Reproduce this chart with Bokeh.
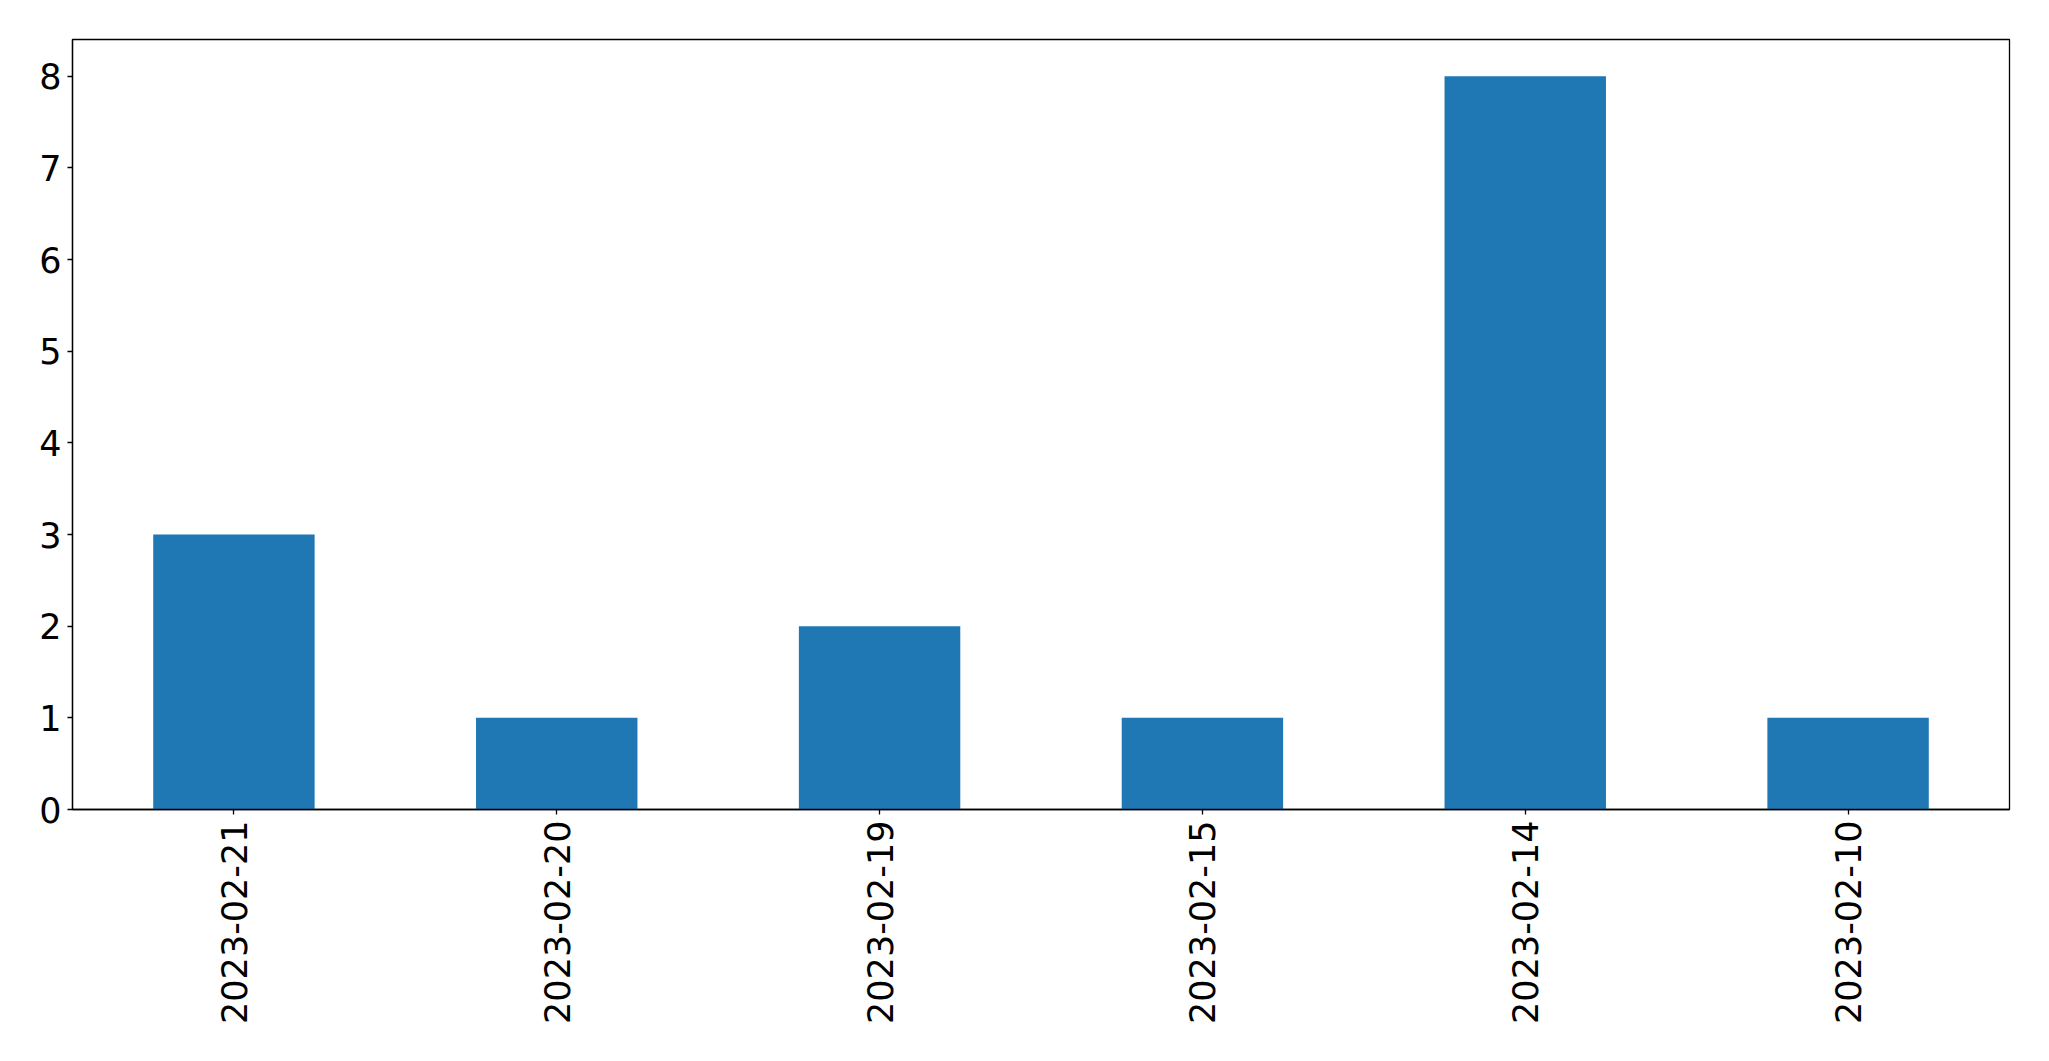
import math
from bokeh.plotting import figure
from bokeh.models import FactorRange, Range1d, FixedTicker
from bokeh.embed import file_html
from bokeh.resources import INLINE

dates = ["2023-02-21", "2023-02-20", "2023-02-19", "2023-02-15", "2023-02-14", "2023-02-10"]
counts = [3, 1, 2, 1, 8, 1]
y_ticks = [0, 1, 2, 3, 4, 5, 6, 7, 8]

p = figure(x_range=FactorRange(*dates), y_range=Range1d(0, 8.4),
           width=2033, height=1040, output_backend="svg", toolbar_location=None,
           min_border_left=72, min_border_top=39, min_border_right=24, min_border_bottom=231)

p.vbar(x=dates, top=counts, width=0.5, color="#1f77b4", line_color=None)

p.xgrid.visible = False
p.ygrid.visible = False
p.outline_line_color = "black"
p.outline_line_width = 1.3
p.outline_line_alpha = 1

for ax in (p.xaxis[0], p.yaxis[0]):
    ax.axis_line_color = "black"
    ax.axis_line_width = 1.3
    ax.major_tick_line_color = "black"
    ax.major_tick_line_width = 1.3
    ax.major_tick_in = 0
    ax.major_tick_out = 5
    ax.minor_tick_line_color = None
    ax.major_label_text_font = "DejaVu Sans"
    ax.major_label_text_font_size = "35px"
    ax.major_label_text_color = "black"
    ax.major_label_standoff = 6

p.yaxis[0].ticker = FixedTicker(ticks=y_ticks)
p.xaxis[0].major_label_orientation = math.pi / 2
p.xaxis[0].major_label_standoff = 6

open("out.html", "w").write(file_html(p, INLINE))
